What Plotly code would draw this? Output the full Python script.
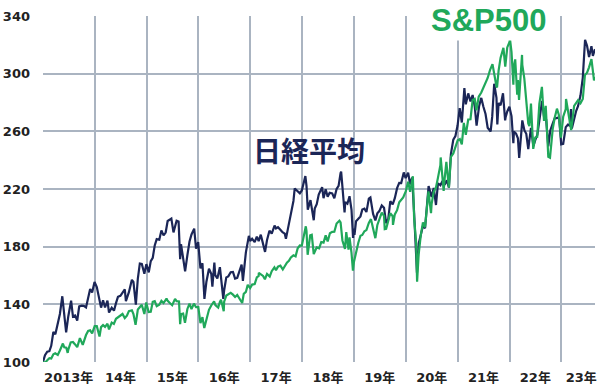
import plotly.graph_objects as go

# ---- Data (index, start of 2013 = 100) ----
nk_dates = [
    "2013-01-01","2013-01-15","2013-01-31","2013-02-15","2013-02-28","2013-03-15","2013-03-29",
    "2013-04-15","2013-04-30","2013-05-17","2013-05-31","2013-06-13","2013-06-28","2013-07-18",
    "2013-07-31","2013-08-15","2013-08-30","2013-09-13","2013-09-30","2013-10-15","2013-10-31",
    "2013-11-15","2013-11-29","2013-12-13","2013-12-30",
    "2014-01-15","2014-01-31","2014-02-14","2014-02-28","2014-03-14","2014-03-31","2014-04-11",
    "2014-04-30","2014-05-16","2014-05-30","2014-06-13","2014-06-30","2014-07-15","2014-07-31",
    "2014-08-08","2014-08-29","2014-09-19","2014-09-30","2014-10-17","2014-10-31","2014-11-14",
    "2014-11-28","2014-12-16","2014-12-30",
    "2015-01-16","2015-01-30","2015-02-13","2015-02-27","2015-03-13","2015-03-31","2015-04-15",
    "2015-04-30","2015-05-15","2015-05-29","2015-06-24","2015-06-30","2015-07-09","2015-07-31",
    "2015-08-14","2015-08-25","2015-08-31","2015-09-15","2015-09-29","2015-10-15","2015-10-30",
    "2015-11-13","2015-12-02","2015-12-15","2015-12-30",
    "2016-01-15","2016-01-29","2016-02-12","2016-02-26","2016-03-15","2016-03-31","2016-04-08",
    "2016-04-22","2016-04-28","2016-05-13","2016-05-31","2016-06-24","2016-06-30","2016-07-15",
    "2016-07-29","2016-08-15","2016-08-31","2016-09-15","2016-09-30","2016-10-14","2016-10-31",
    "2016-11-09","2016-11-30","2016-12-21","2016-12-30",
    "2017-01-13","2017-01-31","2017-02-15","2017-02-28","2017-03-15","2017-03-31","2017-04-14",
    "2017-04-28","2017-05-15","2017-05-31","2017-06-20","2017-06-30","2017-07-14","2017-07-31",
    "2017-08-15","2017-08-31","2017-09-08","2017-09-29","2017-10-13","2017-10-31","2017-11-09",
    "2017-11-30","2017-12-15","2017-12-29",
    "2018-01-23","2018-01-31","2018-02-09","2018-02-28","2018-03-23","2018-03-30","2018-04-13",
    "2018-04-27","2018-05-21","2018-05-31","2018-06-15","2018-06-29","2018-07-13","2018-07-31",
    "2018-08-15","2018-08-31","2018-09-14","2018-09-28","2018-10-02","2018-10-26","2018-10-31",
    "2018-11-15","2018-11-30","2018-12-14","2018-12-25","2018-12-28",
    "2019-01-04","2019-01-15","2019-01-31","2019-02-15","2019-02-28","2019-03-15","2019-03-29",
    "2019-04-15","2019-04-26","2019-05-15","2019-05-31","2019-06-14","2019-06-28","2019-07-15",
    "2019-07-31","2019-08-15","2019-08-30","2019-09-13","2019-09-30","2019-10-15","2019-10-31",
    "2019-11-15","2019-11-29","2019-12-17","2019-12-30",
    "2020-01-17","2020-01-31","2020-02-14","2020-02-28","2020-03-13","2020-03-19","2020-03-31",
    "2020-04-15","2020-04-30","2020-05-15","2020-05-29","2020-06-09","2020-06-30","2020-07-15",
    "2020-07-31","2020-08-14","2020-08-31","2020-09-15","2020-09-30","2020-10-15","2020-10-30",
    "2020-11-13","2020-11-30","2020-12-15","2020-12-30",
    "2021-01-14","2021-01-29","2021-02-16","2021-02-26","2021-03-15","2021-03-31","2021-04-15",
    "2021-04-30","2021-05-13","2021-05-31","2021-06-15","2021-06-30","2021-07-15","2021-07-30",
    "2021-08-20","2021-08-31","2021-09-14","2021-09-30","2021-10-06","2021-10-15","2021-10-29",
    "2021-11-15","2021-11-30","2021-12-03","2021-12-15","2021-12-30",
    "2022-01-14","2022-01-27","2022-01-31","2022-02-15","2022-02-28","2022-03-09","2022-03-31",
    "2022-04-15","2022-04-28","2022-05-12","2022-05-31","2022-06-17","2022-06-30","2022-07-15",
    "2022-07-29","2022-08-17","2022-08-31","2022-09-15","2022-09-30","2022-10-14","2022-10-31",
    "2022-11-15","2022-11-30","2022-12-15","2022-12-30",
    "2023-01-13","2023-01-31","2023-02-15","2023-02-28","2023-03-09","2023-03-15","2023-03-31",
    "2023-04-14","2023-04-28","2023-05-15","2023-05-31","2023-06-16","2023-06-30","2023-07-14",
    "2023-07-31","2023-08-10","2023-08-25",
]
nk_vals = [
    100, 104.7, 107.1, 107.5, 111.2, 120.8, 119.3,
    127.7, 133.3, 145.6, 132.5, 120.5, 131.6, 142.5,
    131.5, 132.3, 128.8, 138.6, 139.1, 138.9, 137.8,
    145.9, 150.7, 148.2, 155.5,
    152, 143.5, 137.7, 142.8, 137.8, 142.6, 134.3,
    137.6, 135.6, 140.8, 145.2, 145.9, 148.1, 150.3,
    142.2, 148.4, 157, 155.6, 139.8, 157.9, 168.3,
    168, 161.2, 167.9,
    162.2, 170, 172.3, 180.8, 185.2, 184.8, 191.3,
    187.8, 189.8, 197.8, 199.5, 194.7, 189.9, 198,
    197.4, 171.3, 181.7, 172.1, 162.9, 174.1, 183.6,
    188.5, 192.5, 178.6, 183.1,
    165, 168.5, 143.8, 155.7, 164.7, 161.2, 152.2,
    169, 160.3, 157.9, 165.8, 143.8, 149.8, 158.7,
    159.4, 162.3, 162.5, 157.8, 158.3, 162.2, 167.6,
    156.3, 176.1, 187.5, 183.9,
    185.5, 183.2, 187, 183.9, 188.3, 181.9, 176.4,
    184.7, 191.1, 189, 194.6, 192.7, 193.5, 191.7,
    190, 189, 185.4, 195.8, 203.5, 211.7, 220.4,
    218.6, 217, 219,
    229, 222.2, 205.7, 212.3, 198.3, 206.4, 209.5,
    216.1, 221.3, 213.6, 219.8, 214.6, 217.4, 217,
    213.6, 220, 222.2, 231, 232, 203.8, 210.9,
    209.8, 215, 205.6, 186, 192.5,
    188.2, 197.7, 199.8, 201, 205.7, 206.4, 204,
    213.3, 214.1, 202.7, 198.2, 203.1, 204.7, 208.6,
    207, 196.3, 199.2, 211.5, 209.3, 213.6, 220.6,
    224.2, 224.1, 231.5, 227.6,
    231.3, 223.2, 227.9, 203.4, 167.7, 162, 182,
    188.1, 194.3, 192.8, 210.5, 222.1, 214.4, 220.7,
    208.9, 224, 222.6, 225.6, 223, 226.1, 221,
    244.2, 254.3, 256.7, 264,
    276.1, 266.1, 290, 278.7, 286.3, 280.7, 285.2,
    277.2, 264, 277.6, 283.2, 277, 272, 262.5,
    259.9, 270.2, 293, 283.3, 264.8, 279.6, 278,
    286.4, 267.6, 269.6, 273.8, 277,
    270.6, 251.8, 259.8, 258.4, 255.2, 241.5, 267.6,
    260.6, 258.3, 247.7, 262.4, 249.8, 253.9, 257.7,
    267.5, 281.1, 270.2, 268.2, 249.5, 260.6, 265.4,
    269.3, 269.1, 269.9, 251,
    251.3, 262.9, 264.6, 264, 275.4, 261.9, 269.8,
    274.1, 277.6, 285, 297.1, 323.5, 319.3, 311.6,
    319.1, 312.4, 317,
]

sp_dates = [
    "2013-01-01","2013-01-15","2013-01-31","2013-02-15","2013-02-28","2013-03-15","2013-03-28",
    "2013-04-15","2013-04-30","2013-05-21","2013-05-31","2013-06-14","2013-06-24","2013-06-28",
    "2013-07-15","2013-07-31","2013-08-15","2013-08-30","2013-09-18","2013-09-30","2013-10-08",
    "2013-10-31","2013-11-15","2013-11-29","2013-12-13","2013-12-31",
    "2014-01-15","2014-02-03","2014-02-14","2014-02-28","2014-03-14","2014-03-31","2014-04-11",
    "2014-04-30","2014-05-15","2014-05-30","2014-06-13","2014-06-30","2014-07-15","2014-07-31",
    "2014-08-15","2014-08-29","2014-09-19","2014-09-30","2014-10-15","2014-10-31","2014-11-14",
    "2014-11-28","2014-12-16","2014-12-29",
    "2015-01-15","2015-01-30","2015-02-13","2015-02-27","2015-03-13","2015-03-31","2015-04-15",
    "2015-04-30","2015-05-21","2015-05-29","2015-06-15","2015-06-30","2015-07-20","2015-07-31",
    "2015-08-17","2015-08-25","2015-08-31","2015-09-15","2015-09-28","2015-10-15","2015-10-30",
    "2015-11-13","2015-11-30","2015-12-15","2015-12-31",
    "2016-01-15","2016-01-29","2016-02-11","2016-02-29","2016-03-15","2016-03-31","2016-04-20",
    "2016-04-29","2016-05-19","2016-05-31","2016-06-08","2016-06-27","2016-06-30","2016-07-15",
    "2016-07-29","2016-08-15","2016-08-31","2016-09-15","2016-09-30","2016-10-14","2016-11-04",
    "2016-11-15","2016-11-30","2016-12-13","2016-12-30",
    "2017-01-13","2017-01-31","2017-02-15","2017-02-28","2017-03-01","2017-03-31","2017-04-13",
    "2017-04-28","2017-05-17","2017-05-31","2017-06-19","2017-06-30","2017-07-14","2017-07-31",
    "2017-08-17","2017-08-31","2017-09-15","2017-09-29","2017-10-13","2017-10-31","2017-11-15",
    "2017-11-30","2017-12-15","2017-12-29",
    "2018-01-26","2018-01-31","2018-02-08","2018-02-26","2018-03-09","2018-03-23","2018-04-13",
    "2018-04-30","2018-05-15","2018-05-31","2018-06-15","2018-06-29","2018-07-15","2018-07-31",
    "2018-08-15","2018-08-31","2018-09-20","2018-09-28","2018-10-11","2018-10-29","2018-11-07",
    "2018-11-23","2018-11-30","2018-12-14","2018-12-24","2018-12-31",
    "2019-01-15","2019-01-31","2019-02-15","2019-02-28","2019-03-15","2019-03-29","2019-04-15",
    "2019-04-30","2019-05-15","2019-05-31","2019-06-14","2019-06-28","2019-07-15","2019-07-31",
    "2019-08-05","2019-08-15","2019-08-30","2019-09-13","2019-09-30","2019-10-02","2019-10-15",
    "2019-10-31","2019-11-15","2019-11-29","2019-12-13","2019-12-31",
    "2020-01-17","2020-01-31","2020-02-19","2020-02-28","2020-03-13","2020-03-20","2020-03-31",
    "2020-04-15","2020-04-30","2020-05-15","2020-05-29","2020-06-08","2020-06-26","2020-06-30",
    "2020-07-15","2020-07-31","2020-08-14","2020-08-31","2020-09-02","2020-09-23","2020-09-30",
    "2020-10-12","2020-10-30","2020-11-13","2020-11-30","2020-12-15","2020-12-31",
    "2021-01-15","2021-01-29","2021-02-12","2021-02-26","2021-03-15","2021-03-31","2021-04-15",
    "2021-04-30","2021-05-12","2021-05-28","2021-06-15","2021-06-30","2021-07-15","2021-07-30",
    "2021-08-16","2021-08-31","2021-09-02","2021-09-30","2021-10-04","2021-10-15","2021-10-29",
    "2021-11-18","2021-11-30","2021-12-01","2021-12-15","2021-12-31",
    "2022-01-03","2022-01-14","2022-01-27","2022-01-31","2022-02-09","2022-02-23","2022-02-28",
    "2022-03-08","2022-03-29","2022-03-31","2022-04-14","2022-04-29","2022-05-12","2022-05-20",
    "2022-05-31","2022-06-16","2022-06-30","2022-07-14","2022-07-29","2022-08-16","2022-08-31",
    "2022-09-12","2022-09-30","2022-10-12","2022-10-31","2022-11-15","2022-11-30","2022-12-13",
    "2022-12-28",
    "2023-01-13","2023-01-31","2023-02-02","2023-02-28","2023-03-10","2023-03-31","2023-04-14",
    "2023-04-28","2023-05-15","2023-05-31","2023-06-15","2023-06-30","2023-07-14","2023-07-31",
    "2023-08-10","2023-08-18","2023-08-25",
]
sp_vals = [
    100, 99.5, 101.2, 102.6, 102.4, 105.4, 106,
    104.9, 108, 112.8, 110.2, 109.9, 106.3, 108.5,
    113.6, 113.9, 112.2, 110.3, 116.6, 113.6, 111.9,
    118.7, 121.5, 122, 119.9, 124.9,
    124.9, 117.7, 124.2, 125.6, 124.4, 126.5, 122.6,
    127.3, 126.4, 130, 130.9, 132.4, 133.3, 130.5,
    132.1, 135.3, 135.9, 133.2, 125.8, 136.4, 137.8,
    139.7, 133.3, 141.3,
    134.7, 134.8, 141.7, 142.2, 138.7, 139.7, 142.4,
    140.9, 144, 142.4, 140.8, 139.4, 143.8, 142.2,
    142, 126.2, 133.2, 133.6, 127.2, 136.8, 140.5,
    136.7, 140.5, 138, 138.1,
    127, 131.1, 123.6, 130.5, 136.2, 139.2, 142,
    139.5, 137.8, 141.7, 143.2, 135.2, 141.8, 146.1,
    146.9, 148, 146.7, 145.1, 146.5, 144.1, 140.9,
    147.3, 148.6, 153.5, 151.3,
    153.7, 154, 158.7, 159.7, 161.9, 159.7, 157.4,
    161.1, 159.3, 163, 165.7, 163.7, 166.1, 166.9,
    164.2, 167, 168.9, 170.2, 172.5, 174, 173.3,
    178.9, 180.8, 180.7,
    194.1, 190.8, 174.4, 187.8, 188.2, 174.9, 179.5,
    178.9, 183.2, 182.8, 187.8, 183.6, 189.3, 190.3,
    190.4, 196.1, 198, 196.9, 184.3, 178.4, 190.1,
    177.9, 186.5, 175.7, 163.3, 169.4,
    176.4, 182.7, 187.6, 188.1, 190.7, 191.5, 196.4,
    199.1, 192.6, 185.9, 195.1, 198.8, 203.6, 201.4,
    192.2, 192.4, 197.7, 203.2, 201.1, 195.1, 202.4,
    205.3, 210.8, 212.2, 214.1, 218.3,
    225, 218, 228.8, 199.6, 183.2, 155.7, 174.7,
    188, 196.8, 193.5, 205.7, 218.4, 203.3, 209.5,
    218, 221, 227.9, 236.5, 241.9, 218.7, 227.2,
    238.8, 220.9, 242.2, 244.7, 249.7, 253.8,
    254.6, 250.9, 265.8, 257.5, 268.2, 268.4, 281.8,
    282.5, 274.5, 284.1, 286.9, 290.4, 294.6, 297,
    302.6, 305.6, 306.6, 291.1, 290.5, 302.1, 311.1,
    317.9, 308.6, 304.9, 318.2, 322,
    324.1, 315, 292.4, 305.1, 309.9, 285.5, 295.5,
    281.8, 313, 306.1, 296.8, 279.2, 265.5, 263.6,
    279.2, 247.8, 255.7, 256.1, 279.1, 290.9, 267.2,
    277.7, 242.3, 241.7, 261.6, 269.7, 275.7, 271.6,
    255.6,
    270.2, 275.5, 282.4, 268.2, 260.9, 277.6, 279.6,
    281.7, 279.5, 282.4, 299, 300.7, 304.4, 310.1,
    301.9, 295.3, 297.7,
]

year_label_pos = ["2013-07-01","2014-07-01","2015-07-01","2016-07-01","2017-07-01","2018-07-01",
                  "2019-07-01","2020-07-01","2021-07-01","2022-07-01","2023-05-20"]
year_labels = ["2013年","14年","15年","16年","17年","18年","19年","20年","21年","22年","23年"]
year_starts = ["2013-01-01","2014-01-01","2015-01-01","2016-01-01","2017-01-01","2018-01-01",
               "2019-01-01","2020-01-01","2021-01-01","2022-01-01","2023-01-01"]
y_ticks = [100, 140, 180, 220, 260, 300, 340]

NAVY = "#1b2657"
GREEN = "#20a85a"
GRID = "#aab4c1"

fig = go.Figure()
fig.add_trace(go.Scatter(x=nk_dates, y=nk_vals, mode="lines",
                         line=dict(color=NAVY, width=2.2), name="日経平均",
                         hoverinfo="skip"))
fig.add_trace(go.Scatter(x=sp_dates, y=sp_vals, mode="lines",
                         line=dict(color=GREEN, width=2.2), name="S&P500",
                         hoverinfo="skip"))

fig.update_layout(
    width=600, height=388,
    margin=dict(l=43, r=3, t=16, b=26),
    paper_bgcolor="white", plot_bgcolor="white",
    showlegend=False,
    xaxis=dict(
        type="date",
        range=["2013-01-01", "2023-08-25"],
        tickmode="array", tickvals=year_label_pos, ticktext=year_labels,
        showgrid=False, zeroline=False, showline=False, ticks="",
        ticklabelstandoff=6,
        tickfont=dict(family="DejaVu Sans, Noto Sans CJK JP", size=13,
                      color="#222222", weight="bold"),
        minor=dict(tickmode="array", tickvals=year_starts, showgrid=True,
                   gridcolor=GRID, gridwidth=1.5, ticks=""),
    ),
    yaxis=dict(
        range=[100, 340],
        tickmode="array", tickvals=y_ticks,
        showgrid=True, gridcolor=GRID, gridwidth=1.5,
        zeroline=False, showline=False, ticks="",
        ticklabelstandoff=12,
        tickfont=dict(family="DejaVu Sans", size=13, color="#222222", weight="bold"),
    ),
    annotations=[
        dict(text="日経平均", xref="paper", yref="paper", x=0.482, y=0.613,
             showarrow=False, xanchor="center", yanchor="middle",
             font=dict(family="Noto Sans CJK JP", size=28, color=NAVY, weight="bold")),
        dict(text="S&P500", xref="paper", yref="paper", x=0.807, y=0.988,
             showarrow=False, xanchor="center", yanchor="middle",
             bgcolor="white", borderpad=2,
             font=dict(family="Liberation Sans, Arial", size=31, color=GREEN, weight="bold")),
    ],
)

assert len(nk_dates) == len(nk_vals), (len(nk_dates), len(nk_vals))
assert len(sp_dates) == len(sp_vals), (len(sp_dates), len(sp_vals))

fig.write_html("out.html")
